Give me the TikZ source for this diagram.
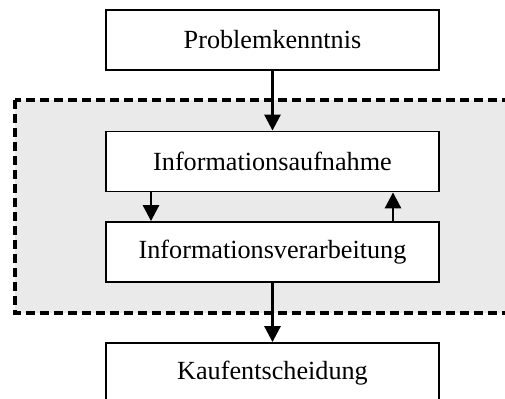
\documentclass[tikz,border=0pt]{standalone}
\usepackage{fontspec}
\setmainfont{Liberation Serif}
\usetikzlibrary{arrows.meta}
\definecolor{panelgrey}{HTML}{EAEAEA}
\begin{document}
\begin{tikzpicture}[x=0.5pt,y=-0.5pt,
  box/.style={draw,line width=0.9pt,fill=white,minimum width=166.5pt,minimum height=30pt,inner sep=0pt,font=\fontsize{13.1}{15}\selectfont},
  arr/.style={line width=1.4pt,-{Triangle[width=8pt,length=8pt]}},
  panel/.style={fill=panelgrey,draw,line width=1.7pt,dash pattern=on 4.5pt off 2.5pt}]
\clip (0,0) rectangle (505,399);
\useasboundingbox (0,0) rectangle (505,399);
\path[panel] (15,100) rectangle (540,313);
\node[box] (pk) at (272.5,40) {Problemkenntnis};
\node[box] (ia) at (272.5,161.5) {Informationsaufnahme};
\node[box] (iv) at (272.5,252) {Informationsverarbeitung};
\node[box] (kf) at (272.5,373) {Kaufentscheidung};
\draw[arr] (pk) -- (ia);
\draw[arr] ([xshift=-60.75pt]ia.south) -- ([xshift=-60.75pt]iv.north);
\draw[arr] ([xshift=60.25pt]iv.north) -- ([xshift=60.25pt]ia.south);
\draw[arr] (iv) -- (kf);
\end{tikzpicture}
\end{document}
